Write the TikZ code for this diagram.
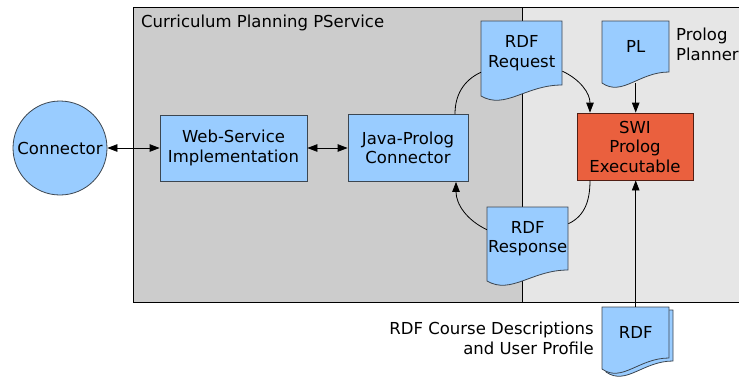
\documentclass[tikz,border=0pt]{standalone}
\usepackage{fontspec}
\setmainfont{DejaVu Sans}
\usetikzlibrary{arrows.meta}
\definecolor{boxblue}{HTML}{99CCFF}
\definecolor{swired}{HTML}{EA603E}
\definecolor{panedark}{HTML}{CCCCCC}
\definecolor{panelight}{HTML}{E6E6E6}
\definecolor{edge}{HTML}{3C4650}
\newcommand{\pageshape}[4]{%
  \filldraw[docpage] (#1,#2) -- ({#1+#3},#2) -- ({#1+#3},{#2+#4})
    .. controls ({#1+0.55*#3},{#2+#4}) and ({#1+0.3*#3},{#2+#4+25}) .. (#1,{#2+#4+11}) -- cycle;}
\newcommand{\docnode}[6]{%
  \pageshape{#2}{#3}{#4}{#5}
  \node[doctext, minimum width=#4pt, minimum height=#5pt, anchor=north west] (#1) at (#2,#3) {#6};}
\begin{document}
\begin{tikzpicture}[x=1pt,y=-1pt]
\tikzstyle{every node}+=[inner sep=0pt, font=\fontsize{16.5}{19.5}\selectfont, align=center]
\tikzstyle{block}=[rectangle, draw=edge, fill=boxblue, line width=0.8pt]
\tikzstyle{docpage}=[draw=edge, fill=boxblue, line width=0.8pt]
\tikzstyle{doctext}=[rectangle]
\tikzstyle{link}=[black, line width=0.8pt]
\tikzstyle{oneway}=[-{Triangle[length=10pt,width=7.5pt]}]
\tikzstyle{twoway}=[{Triangle[length=10pt,width=7.5pt]}-{Triangle[length=10pt,width=7.5pt]}]
\useasboundingbox (0,0) rectangle (739,376);
\filldraw[fill=panedark, line width=1pt] (133,7) rectangle (522,302);
\filldraw[fill=panelight, line width=1pt] (522,7) rectangle (745,302);
\node[anchor=base west] (service) at (141,27) {Curriculum Planning PService};
\node[anchor=base west, align=left] (planner) at (676,60) {Prolog\\Planner};
\node[anchor=base east, align=right] (course) at (594,354) {RDF Course Descriptions\\and User Profile};
\node[circle, draw=edge, fill=boxblue, line width=0.8pt, minimum size=94pt] (conn) at (60,148) {Connector};
\node[block, minimum width=147pt, minimum height=66pt] (web) at (233.5,148) {Web-Service\\Implementation};
\node[block, minimum width=120pt, minimum height=67pt] (java) at (408,148) {Java-Prolog\\Connector};
\node[block, fill=swired, draw={rgb,255:red,80;green,30;blue,20}, minimum width=116pt, minimum height=67pt] (swi) at (635,146.5) {SWI\\Prolog\\Executable};
\docnode{req}{481}{21}{81}{64}{RDF\\Request}
\docnode{pl}{602}{21}{67}{51}{PL}
\docnode{resp}{487}{207}{81}{63}{RDF\\Response}
\pageshape{606}{310}{67}{51}
\docnode{rdf}{602}{307}{67}{51}{RDF}
\draw[link, twoway] (conn) -- (web);
\draw[link, twoway] (web) -- (java);
\draw[link] ([xshift=47pt]java.north) to[out=90, in=205] ([yshift=-19pt]req.west);
\draw[link, oneway] ([yshift=-18pt]req.east) to[out=-25, in=90] ([xshift=-45pt]swi.north);
\draw[link, oneway] ([yshift=-11pt]pl.south) -- (swi.north -| pl.south);
\draw[link] ([xshift=-45pt]swi.south) to[out=-90, in=25] ([yshift=15pt]resp.east);
\draw[link, oneway] ([yshift=9pt]resp.west) to[out=155, in=-90] ([xshift=48pt]java.south);
\draw[link, oneway] (rdf.north) -- (swi.south -| rdf.north);
\end{tikzpicture}
\end{document}
